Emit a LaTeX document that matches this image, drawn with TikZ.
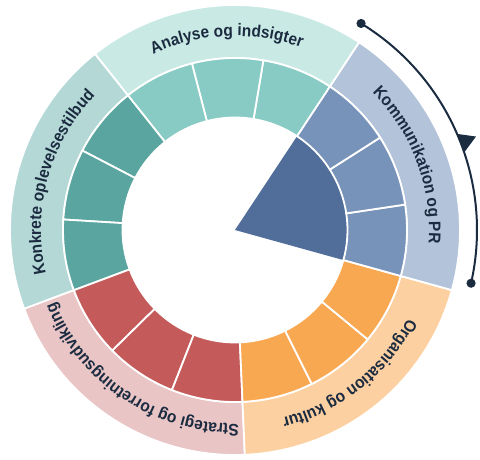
\documentclass[tikz,border=0pt]{standalone}
\usepackage{fontspec}
\newfontfamily\labfont{Liberation Sans}[FakeStretch=0.92]
\usetikzlibrary{decorations.text}
\definecolor{navy}{HTML}{1B2B40}
\definecolor{anaO}{HTML}{C9E9E5}
\definecolor{anaI}{HTML}{88CBC4}
\definecolor{konO}{HTML}{B4D8D6}
\definecolor{konI}{HTML}{5AA59F}
\definecolor{strO}{HTML}{E9C5C6}
\definecolor{strI}{HTML}{C45B5A}
\definecolor{orgO}{HTML}{FDD0A1}
\definecolor{orgI}{HTML}{F9A852}
\definecolor{komO}{HTML}{B3C3DA}
\definecolor{komI}{HTML}{7893BA}
\definecolor{komW}{HTML}{516E9A}
\newcommand\ringseg[5]{%
  \fill[#5, draw=white, line width=1.8pt] (#1:#3) arc[start angle=#1, end angle=#2, radius=#3]
    -- (#2:#4) arc[start angle=#2, end angle=#1, radius=#4] -- cycle;}
\newcommand\arclabel[2]{%
  \pgfmathsetmacro\lsa{#1+75}\pgfmathsetmacro\lea{#1-75}%
  \path[decorate, decoration={text along path, text align=center, text color=navy,
    text={|\labfont\bfseries\fontsize{16.8pt}{19pt}\selectfont|#2}}]
    (\lsa:194pt) arc[start angle=\lsa, end angle=\lea, radius=194pt];}
\begin{document}
\begin{tikzpicture}
\useasboundingbox (-235pt,-229pt) rectangle (245pt,230pt);
% outer ring
\ringseg{56.5}{128.5}{172pt}{225pt}{anaO}
\ringseg{128.5}{200.5}{172pt}{225pt}{konO}
\ringseg{200.5}{272.5}{172pt}{225pt}{strO}
\ringseg{272.5}{344.5}{172pt}{225pt}{orgO}
\ringseg{-15.5}{56.5}{172pt}{225pt}{komO}
% highlighted wedge
\coordinate (ctr) at (0,0);
\fill[komW] (ctr) -- (-15.5:112.5pt) arc[start angle=-15.5, end angle=56.5, radius=112.5pt] -- cycle;
% inner ring
\foreach \a/\c in {56.5/anaI,80.5/anaI,104.5/anaI,128.5/konI,152.5/konI,176.5/konI,
  200.5/strI,224.5/strI,248.5/strI,272.5/orgI,296.5/orgI,320.5/orgI,
  -15.5/komI,8.5/komI,32.5/komI}{%
  \pgfmathsetmacro\b{\a+24}%
  \ringseg{\a}{\b}{112.5pt}{172pt}{\c}}
% labels
\arclabel{92.5}{Analyse og indsigter}
\arclabel{20.5}{Kommunikation og PR}
\arclabel{-51.5}{Organisation og kultur}
\arclabel{-123.5}{Strategi og forretningsudvikling}
\arclabel{164.5}{Konkrete oplevelsestilbud}
% outer arrow arc
\coordinate (arcA) at (58.6:242pt);
\coordinate (arcB) at (-12.7:242pt);
\draw[navy, line width=2pt] (arcA) arc[start angle=58.6, end angle=-12.7, radius=242pt];
\fill[navy] (arcA) circle[radius=4.6pt];
\fill[navy] (arcB) circle[radius=4.6pt];
\coordinate (tipA) at (23.4:242pt);
\coordinate (tipB) at (21.2:258.5pt);
\coordinate (tipC) at (18.7:242pt);
\fill[navy] (tipA) -- (tipB) -- (tipC) -- cycle;
\end{tikzpicture}
\end{document}
